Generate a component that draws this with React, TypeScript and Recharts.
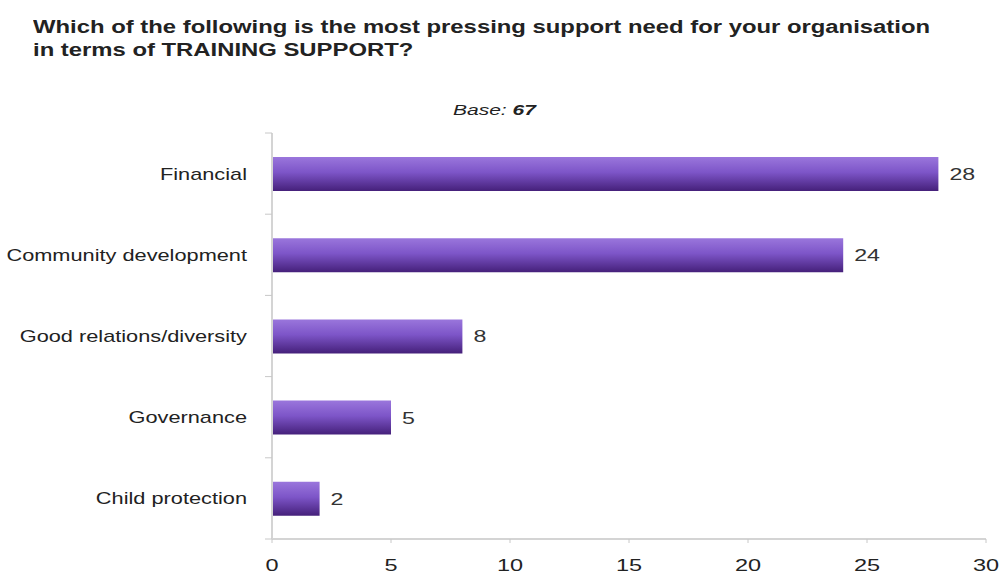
import React from "react";
import { BarChart, Bar, XAxis, YAxis, LabelList } from "recharts";

const categories = ["Financial", "Community development", "Good relations/diversity", "Governance", "Child protection"];
const values = [28, 24, 8, 5, 2];
const xTicks = [0, 5, 10, 15, 20, 25, 30];
const titleLines = ["Which of the following is the most pressing support need for your organisation", "in terms of TRAINING SUPPORT?"];
const baseLabel = "Base:";
const baseValue = "67";

const data = categories.map((c, i) => ({ name: c, value: values[i] }));

const FONT = "'Liberation Sans', Arial, sans-serif";

const YTick = (props: any) => {
  const { x, y, payload, index } = props;
  const off = payload && payload.offset ? payload.offset : 40.6;
  const ax = x + 25;
  return (
    <g>
      <line x1={ax - 7} x2={ax} y1={y - off} y2={y - off} stroke="#c8c8c8" />
      {index === categories.length - 1 && (
        <line x1={ax - 7} x2={ax} y1={y + off} y2={y + off} stroke="#c8c8c8" />
      )}
      <text
        transform={`translate(${x},${y + 6}) scale(1.28,1)`}
        x={0}
        y={0}
        textAnchor="end"
        fontSize={17}
        fill="#222"
        fontFamily={FONT}
      >
        {payload.value}
      </text>
    </g>
  );
};

const XTick = (props: any) => {
  const { x, y, payload } = props;
  return (
    <text
      transform={`translate(${x},${y + 20}) scale(1.38,1)`}
      x={0}
      y={0}
      textAnchor="middle"
      fontSize={17}
      fill="#222"
      fontFamily={FONT}
    >
      {payload.value}
    </text>
  );
};

const ValueLabel = (props: any) => {
  const { x, y, width, height, value } = props;
  return (
    <text
      transform={`translate(${x + width + 11},${y + height / 2 + 6}) scale(1.45,1)`}
      x={0}
      y={0}
      textAnchor="start"
      fontSize={16}
      fill="#333"
      fontFamily={FONT}
    >
      {value}
    </text>
  );
};

export default function App() {
  return (
    <div style={{ position: "absolute", left: 0, top: 0, width: 999, height: 576, background: "#fff" }}>
      <div
        style={{
          position: "absolute",
          left: 33,
          top: 16,
          fontFamily: FONT,
          fontWeight: "bold",
          fontSize: 18,
          lineHeight: "23px",
          color: "#222",
          whiteSpace: "nowrap",
          transform: "scaleX(1.325)",
          transformOrigin: "0 0",
        }}
      >
        {titleLines.map((l, i) => (
          <div key={i}>{l}</div>
        ))}
      </div>
      <div
        style={{
          position: "absolute",
          left: 453,
          top: 102,
          fontFamily: FONT,
          fontStyle: "italic",
          fontSize: 14,
          color: "#222",
          whiteSpace: "nowrap",
          transform: "scaleX(1.5)",
          transformOrigin: "0 0",
        }}
      >
        {baseLabel} <b>{baseValue}</b>
      </div>
      <BarChart
        width={999}
        height={576}
        data={data}
        layout="vertical"
        margin={{ top: 133, right: 13, bottom: 7, left: 0 }}
        barCategoryGap={0}
      >
        <defs>
          <linearGradient id="barGrad" x1="0" y1="0" x2="0" y2="1">
            <stop offset="0%" stopColor="#9a76dc" />
            <stop offset="45%" stopColor="#7d55c8" />
            <stop offset="100%" stopColor="#45207a" />
          </linearGradient>
        </defs>
        <XAxis
          type="number"
          domain={[0, 30]}
          ticks={xTicks}
          height={30}
          axisLine={{ stroke: "#d4d4d4", strokeWidth: 2 }}
          tickLine={{ stroke: "#c8c8c8" }}
          tickSize={4}
          tickMargin={8}
          tick={<XTick />}
        />
        <YAxis
          type="category"
          dataKey="name"
          width={272}
          axisLine={{ stroke: "#d4d4d4", strokeWidth: 2 }}
          tickLine={false}
          tickSize={0}
          tickMargin={25}
          tick={<YTick />}
        />
        <Bar dataKey="value" fill="url(#barGrad)" barSize={34} isAnimationActive={false}>
          <LabelList dataKey="value" content={<ValueLabel />} />
        </Bar>
      </BarChart>
    </div>
  );
}
